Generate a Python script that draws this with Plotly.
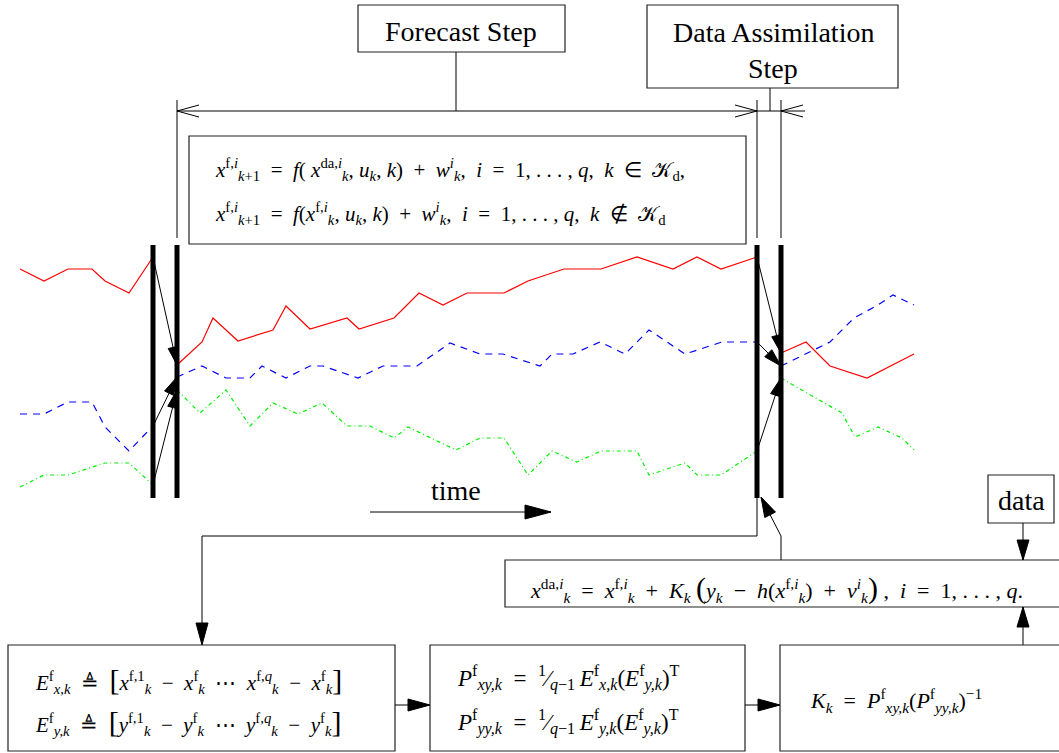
import math
import plotly.graph_objects as go

W, H = 1059, 753

# --- ensemble trajectories (time, state) -------------------------------
# member 1 (red, solid)
red_prior_t = [20, 44, 68, 92, 105, 129, 153]
red_prior_y = [269, 281, 269, 269, 281, 293, 257]
red_fc_t = [177, 202, 213, 238, 273, 286, 310, 347, 359, 394, 419, 443, 467,
            504, 528, 564, 601, 637, 673, 697, 721, 757]
red_fc_y = [365, 342, 318, 341, 330, 306, 329, 318, 329, 318, 293, 305, 293,
            293, 281, 269, 269, 257, 269, 257, 269, 257]
red_post_t = [781, 806, 830, 867, 914]
red_post_y = [353, 342, 366, 378, 354]

# member 2 (blue, dashed)
blue_prior_t = [20, 44, 68, 92, 105, 129, 153]
blue_prior_y = [414, 414, 402, 402, 427, 451, 426]
blue_fc_t = [177, 202, 226, 250, 262, 286, 310, 323, 358, 383, 417, 450, 480,
             503, 540, 552, 573, 600, 625, 649, 685, 722, 757]
blue_fc_y = [377, 366, 378, 378, 366, 378, 366, 366, 378, 366, 366, 343, 354,
             354, 366, 354, 354, 342, 354, 330, 354, 342, 342]
blue_post_t = [781, 806, 830, 854, 878, 893, 914]
blue_post_y = [366, 354, 342, 318, 305, 295, 305]

# member 3 (green, dash-dot)
green_prior_t = [20, 44, 68, 105, 129, 153]
green_prior_y = [487, 475, 475, 463, 463, 485]
green_fc_t = [177, 200, 226, 250, 273, 298, 322, 347, 370, 394, 408, 456, 480,
              504, 528, 552, 577, 601, 637, 649, 685, 697, 721, 757]
green_fc_y = [390, 413, 390, 426, 403, 414, 403, 426, 426, 438, 427, 450, 438,
              438, 475, 451, 462, 451, 451, 475, 463, 475, 475, 451]
green_post_t = [781, 807, 842, 855, 878, 902, 914]
green_post_y = [378, 393, 413, 437, 427, 438, 450]

members = [
    ("#ff0000", "solid", (red_prior_t, red_prior_y), (red_fc_t, red_fc_y), (red_post_t, red_post_y)),
    ("#0000ff", "7px,6px", (blue_prior_t, blue_prior_y), (blue_fc_t, blue_fc_y), (blue_post_t, blue_post_y)),
    ("#00f000", "4px,3px,1px,3px", (green_prior_t, green_prior_y), (green_fc_t, green_fc_y), (green_post_t, green_post_y)),
]

SERIF = "Liberation Serif, Times New Roman, serif"
MATH = 22
WORD = 28

fig = go.Figure()
shapes = []
annotations = []


def seg(x0, y0, x1, y1, width=1.0, color="black"):
    shapes.append(dict(type="line", xref="x", yref="y", x0=x0, y0=y0, x1=x1, y1=y1,
                       line=dict(color=color, width=width)))


def head(xt, yt, xf, yf, L=14, w=4):
    dx, dy = xt - xf, yt - yf
    n = math.hypot(dx, dy)
    ux, uy = dx / n, dy / n
    bx, by = xt - ux * L, yt - uy * L
    px, py = -uy * w, ux * w
    path = f"M{xt},{yt} L{bx + px},{by + py} L{bx - px},{by - py} Z"
    shapes.append(dict(type="path", xref="x", yref="y", path=path,
                       fillcolor="black", line=dict(color="black", width=1)))


def arrow(x0, y0, x1, y1, L=14, w=4, width=1.0):
    seg(x0, y0, x1, y1, width)
    head(x1, y1, x0, y0, L, w)


def chevron(xt, yt, direction, L=22, w=6):
    # open arrowhead pointing left (-1) or right (+1)
    bx = xt - direction * L
    path = f"M{bx},{yt - w} L{xt},{yt} L{bx},{yt + w}"
    shapes.append(dict(type="path", xref="x", yref="y", path=path,
                       line=dict(color="black", width=1)))


def box(x0, y0, x1, y1):
    shapes.append(dict(type="rect", xref="x", yref="y", x0=x0, y0=y0, x1=x1, y1=y1,
                       line=dict(color="#222", width=1.2), fillcolor="rgba(0,0,0,0)"))


def label(x, y, text, size=MATH, anchor="left"):
    annotations.append(dict(x=x, y=y, xref="x", yref="y", text=text, showarrow=False,
                            xanchor=anchor, yanchor="middle",
                            font=dict(family=SERIF, size=size, color="black")))


def big(ch, size=30):
    return f'<span style="font-size:{size}px">{ch}</span>'


SP = "\u2002"  # en space for relation / punctuation gaps
TH = "\u2009"  # thin space

# trajectories
for color, dash, *parts in members:
    for t, y in parts:
        fig.add_trace(go.Scatter(x=t, y=y, mode="lines", hoverinfo="skip", showlegend=False,
                                 line=dict(color=color, width=1.2, dash=dash)))

# forecast / assimilation bars
bar_x = [153, 177, 757, 781]
for bx in bar_x:
    seg(bx, 245, bx, 498, width=5)

# jumps across the bars, taken from the ends of the trajectory pieces
for color, dash, prior, fc, post in members:
    arrow(prior[0][-1], prior[1][-1], fc[0][0], fc[1][0], L=18, w=5)
    arrow(fc[0][-1], fc[1][-1], post[0][0], post[1][0], L=18, w=5)

# header boxes and dimension line
box(358, 5, 565, 52)
box(647, 5, 898, 88)
label(461, 31, "Forecast Step", size=WORD, anchor="center")
label(773, 32, "Data Assimilation", size=WORD, anchor="center")
label(773, 68, "Step", size=WORD, anchor="center")
seg(456, 52, 456, 111)
seg(770, 88, 770, 111)
for vx in (177, 757, 781):
    seg(vx, 100, vx, 238)
seg(177, 111, 805, 111)
chevron(177, 111, -1)
chevron(757, 111, 1)
chevron(781, 111, -1)

# forecast model box
box(189, 136, 746, 244)
label(213, 169, f"<i>x</i><sup>f,<i>i</i></sup><sub><i>k</i>+1</sub>{SP}={SP}<i>f</i>( <i>x</i><sup>da,<i>i</i></sup><sub><i>k</i></sub>, "
                f"<i>u</i><sub><i>k</i></sub>, <i>k</i>){SP}+{SP}<i>w</i><sup><i>i</i></sup><sub><i>k</i></sub>,{SP}"
                f"<i>i</i>{SP}={SP}1, . . . , <i>q</i>,{SP}<i>k</i>{SP}∈{SP}𝒦<sub>d</sub>,", size=21)
label(213, 213, f"<i>x</i><sup>f,<i>i</i></sup><sub><i>k</i>+1</sub>{SP}={SP}<i>f</i>(<i>x</i><sup>f,<i>i</i></sup><sub><i>k</i></sub>, "
                f"<i>u</i><sub><i>k</i></sub>, <i>k</i>){SP}+{SP}<i>w</i><sup><i>i</i></sup><sub><i>k</i></sub>,{SP}"
                f"<i>i</i>{SP}={SP}1, . . . , <i>q</i>,{SP}<i>k</i>{SP}∉{SP}𝒦<sub>d</sub>", size=21)

# time arrow
label(456, 490, "time", size=WORD, anchor="center")
arrow(370, 512, 551, 512, L=26, w=7)

# flow to the ensemble-statistics box
seg(757, 497, 757, 536)
seg(757, 536, 202, 536)
arrow(202, 536, 202, 645, L=22, w=6)

# analysis update box and its links
box(505, 560, 1070, 607)
label(528, 588, f"<i>x</i><sup>da,<i>i</i></sup><sub><i>k</i></sub>{SP}={SP}<i>x</i><sup>f,<i>i</i></sup><sub><i>k</i></sub>{SP}+{SP}"
                f"<i>K</i><sub><i>k</i></sub> {big('(')}<i>y</i><sub><i>k</i></sub>{SP}−{SP}<i>h</i>(<i>x</i><sup>f,<i>i</i></sup><sub><i>k</i></sub>){SP}+{SP}"
                f"<i>v</i><sup><i>i</i></sup><sub><i>k</i></sub>{big(')')} ,{SP}<i>i</i>{SP}={SP}1, . . . , <i>q</i>.")
seg(781, 560, 781, 536)
arrow(781, 536, 761, 497, L=20, w=6)

box(988, 475, 1054, 523)
label(1021, 500, "data", size=WORD, anchor="center")
arrow(1023, 523, 1023, 560, L=20, w=6)
arrow(1023, 645, 1023, 607, L=20, w=6)

# bottom row
box(8, 645, 395, 751)
label(33, 680, f"<i>E</i><sup>f</sup><sub><i>x,k</i></sub>{SP}≜{SP}{big('[')}<i>x</i><sup>f,1</sup><sub><i>k</i></sub>{SP}−{SP}<i>x</i><sup>f</sup><sub><i>k</i></sub>{SP}⋯{SP}"
               f"<i>x</i><sup>f,<i>q</i></sup><sub><i>k</i></sub>{SP}−{SP}<i>x</i><sup>f</sup><sub><i>k</i></sub>{big(']')}", size=21)
label(33, 722, f"<i>E</i><sup>f</sup><sub><i>y,k</i></sub>{SP}≜{SP}{big('[')}<i>y</i><sup>f,1</sup><sub><i>k</i></sub>{SP}−{SP}<i>y</i><sup>f</sup><sub><i>k</i></sub>{SP}⋯{SP}"
               f"<i>y</i><sup>f,<i>q</i></sup><sub><i>k</i></sub>{SP}−{SP}<i>y</i><sup>f</sup><sub><i>k</i></sub>{big(']')}", size=21)
arrow(395, 705, 430, 705, L=22, w=6)

box(430, 645, 745, 751)
label(455, 678, f"<i>P</i><sup>f</sup><sub><i>xy,k</i></sub>{SP}={SP}<sup>1</sup>⁄<sub><i>q</i>−1</sub>{TH}<i>E</i><sup>f</sup><sub><i>x,k</i></sub>"
                f"(<i>E</i><sup>f</sup><sub><i>y,k</i></sub>)<sup>T</sup>", size=23)
label(455, 722, f"<i>P</i><sup>f</sup><sub><i>yy,k</i></sub>{SP}={SP}<sup>1</sup>⁄<sub><i>q</i>−1</sub>{TH}<i>E</i><sup>f</sup><sub><i>y,k</i></sub>"
                f"(<i>E</i><sup>f</sup><sub><i>y,k</i></sub>)<sup>T</sup>", size=23)
arrow(745, 705, 780, 705, L=22, w=6)

box(780, 645, 1070, 751)
label(808, 700, f"<i>K</i><sub><i>k</i></sub>{SP}={SP}<i>P</i><sup>f</sup><sub><i>xy,k</i></sub>(<i>P</i><sup>f</sup><sub><i>yy,k</i></sub>)<sup>−1</sup>")

fig.update_layout(
    width=W, height=H,
    margin=dict(l=0, r=0, t=0, b=0),
    paper_bgcolor="white", plot_bgcolor="white",
    xaxis=dict(range=[0, W], visible=False, fixedrange=True),
    yaxis=dict(range=[H, 0], visible=False, fixedrange=True),
    shapes=shapes, annotations=annotations,
)

fig.write_html("out.html", config={"displayModeBar": False})
